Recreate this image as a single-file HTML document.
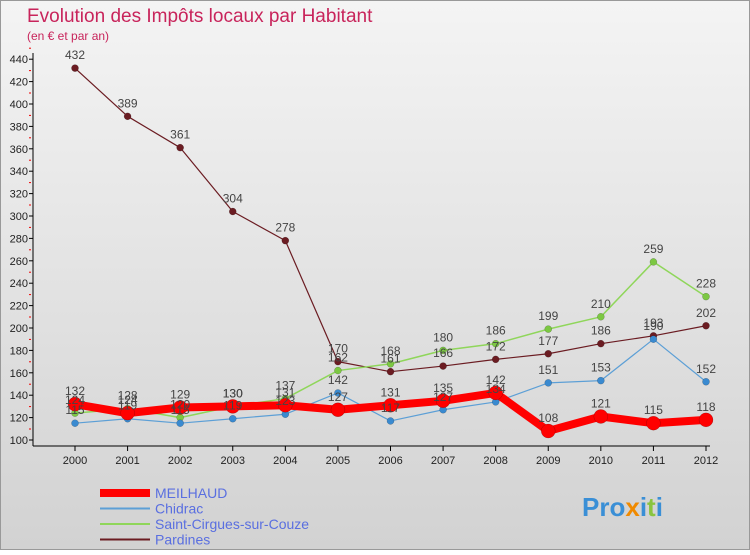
<!DOCTYPE html>
<html><head><meta charset="utf-8"><style>
body{margin:0;width:750px;height:550px;overflow:hidden;font-family:"Liberation Sans",sans-serif}
</style></head><body>
<svg id="c" width="750" height="550" xmlns="http://www.w3.org/2000/svg">
<defs><linearGradient id="bg" x1="0" y1="0" x2="0" y2="1"><stop offset="0" stop-color="#f4f4f4"/><stop offset="1" stop-color="#d2d2d2"/></linearGradient></defs>
<rect x="0.5" y="0.5" width="749" height="549" fill="url(#bg)" stroke="#999"/>
<text x="27" y="22" font-size="19" fill="#c8245b">Evolution des Impôts locaux par Habitant</text>
<text x="27" y="40" font-size="12" fill="#c8245b">(en € et par an)</text>
<g id="axes"></g><g id="series"></g><g id="labels"></g>
<g id="legend"></g>
<text x="582" y="516" font-size="26" font-weight="bold" fill="#3a8fd6">Pro<tspan fill="#f08a00">x</tspan>i<tspan fill="#8ac43f">t</tspan>i</text>
</svg>
<script>
const years=[2000,2001,2002,2003,2004,2005,2006,2007,2008,2009,2010,2011,2012];
const meilhaud=[132,124,129,130,131,127,131,135,142,108,121,115,118];
const chidrac=[115,119,115,119,123,142,117,127,134,151,153,190,152];
const cirgues=[124,128,120,130,137,162,168,180,186,199,210,259,228];
const pardines=[432,389,361,304,278,170,161,166,172,177,186,193,202];
const yTicks=[100,120,140,160,180,200,220,240,260,280,300,320,340,360,380,400,420,440];
const NS="http://www.w3.org/2000/svg";
const X=i=>75+i*(631/12), Y=v=>440-(v-100)*1.12;
function mk(t,a,p){const e=document.createElementNS(NS,t);for(const k in a)e.setAttribute(k,a[k]);p.appendChild(e);return e;}
const ax=document.getElementById('axes');
let l=mk('line',{x1:33,y1:53,x2:33,y2:446,stroke:'#000'},ax);
l=mk('line',{x1:33,y1:446,x2:710,y2:446,stroke:'#000'},ax);
yTicks.forEach(v=>{const y=Y(v);mk('line',{x1:29,y1:y,x2:33,y2:y,stroke:'#000'},ax);mk('line',{x1:29,y1:y-11,x2:31,y2:y-11,stroke:'#e00'},ax);
const t=mk('text',{x:28,y:y+4,'font-size':11,'text-anchor':'end',fill:'#222'},ax);t.textContent=v;});
years.forEach((yr,i)=>{mk('line',{x1:X(i),y1:446,x2:X(i),y2:451,stroke:'#000'},ax);
const t=mk('text',{x:X(i),y:464,'font-size':11,'text-anchor':'middle',fill:'#222'},ax);t.textContent=yr;});
const S=[{n:'pardines',d:pardines,c:'#6b1c22',w:1.2,r:3.5},{n:'saint-cirgues',d:cirgues,c:'#8fd65a',w:1.5,r:3.5,f:'#7cc842'},{n:'chidrac',d:chidrac,c:'#5c9fd6',w:1.2,r:3.5,f:'#3a8ad0'},{n:'meilhaud',d:meilhaud,c:'#f00',w:8,r:7}];
const sg=document.getElementById('series'),lg=document.getElementById('labels');
S.forEach(s=>{const p=mk('polyline',{points:s.d.map((v,i)=>X(i)+','+Y(v)).join(' '),fill:'none',stroke:s.c,'stroke-width':s.w,'stroke-linejoin':'round'},sg);

s.d.forEach((v,i)=>{const c=mk('circle',{cx:X(i),cy:Y(v),r:s.r,fill:s.f||s.c,stroke:'rgba(0,0,0,0.3)','stroke-width':0.5},sg);
const t=mk('text',{x:X(i),y:Y(v)-9,'font-size':12,'text-anchor':'middle',fill:'#444'},lg);t.textContent=v;});});
const lgd=document.getElementById('legend');
[['MEILHAUD','#f00',8],['Chidrac','#5c9fd6',2],['Saint-Cirgues-sur-Couze','#8fd65a',2],['Pardines','#6b1c22',2]].forEach((e,i)=>{const y=493+i*15.5;
const r=mk('line',{x1:100,y1:y,x2:150,y2:y,stroke:e[1],'stroke-width':e[2]},lgd);
const t=mk('text',{x:155,y:y+5,'font-size':14,fill:'#5a6fe0'},lgd);t.textContent=e[0];});
</script>
</body></html>
